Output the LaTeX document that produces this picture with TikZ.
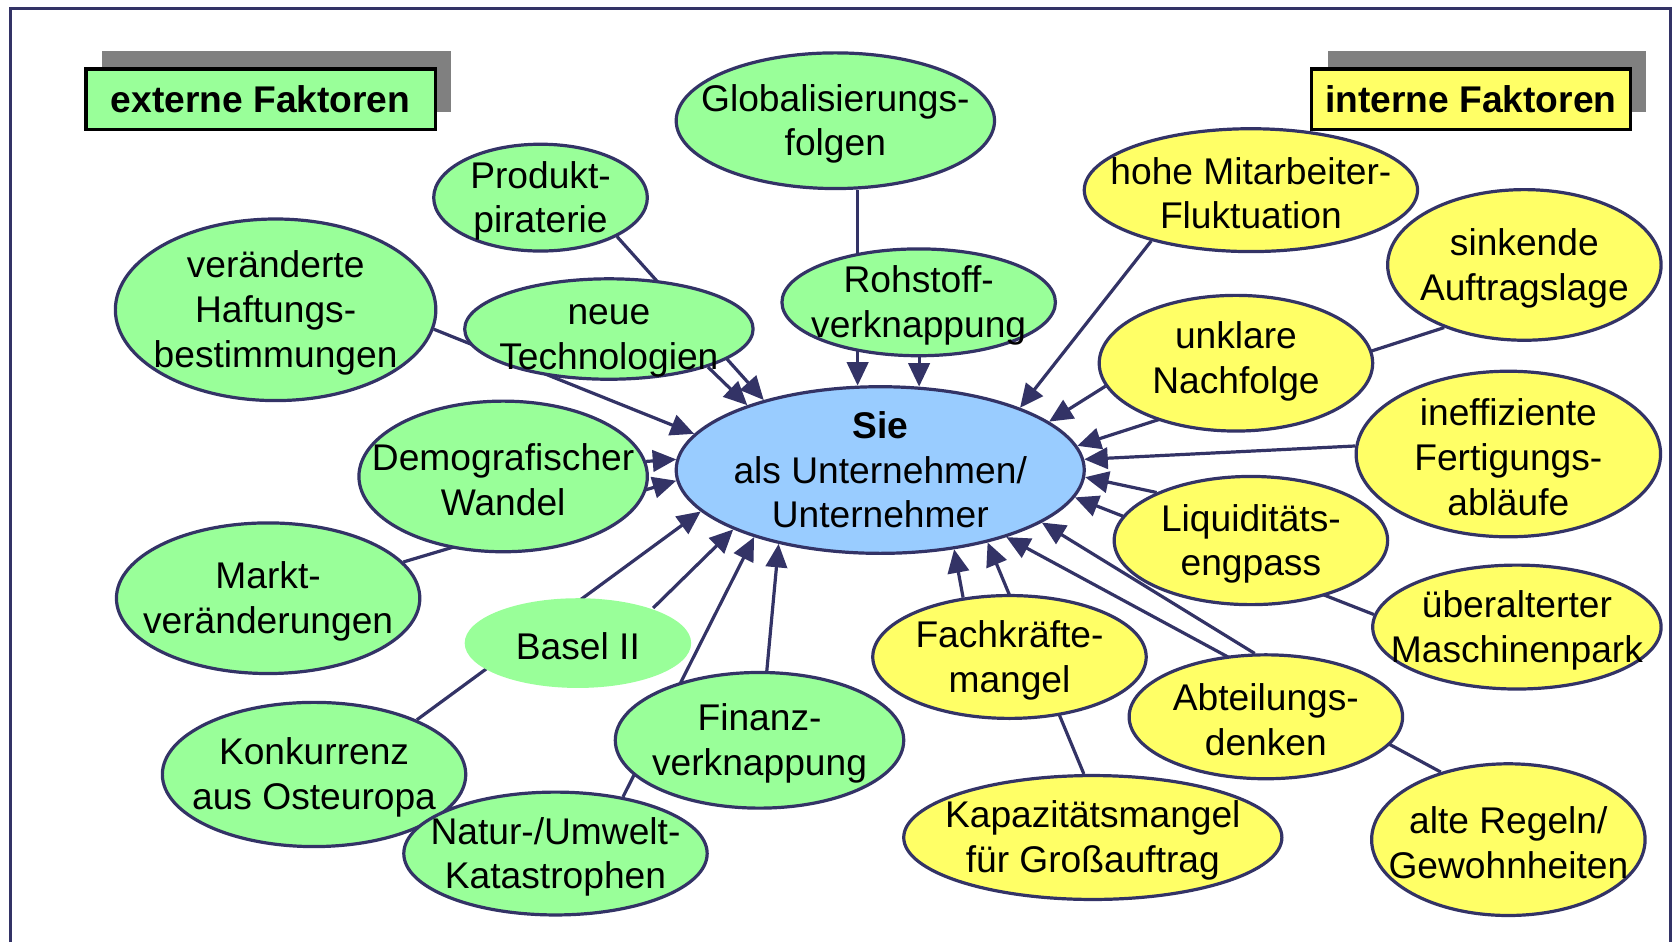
\documentclass[tikz,border=0pt]{standalone}
\usepackage{fontspec}
\setmainfont{Liberation Sans}
\usetikzlibrary{shapes.geometric, arrows.meta, backgrounds, shadows}
\definecolor{rand}{HTML}{333366}
\definecolor{gruen}{HTML}{99FF99}
\definecolor{gelb}{HTML}{FFFF66}
\definecolor{blau}{HTML}{99CCFF}
\definecolor{schatten}{HTML}{808080}

\begin{document}
\begin{tikzpicture}[x=0.1mm, y=-0.1mm, font=\fontsize{9.9}{11.9}\selectfont,
        fak/.style = {ellipse, draw=rand, line width=0.3mm, inner sep=0pt},
        txt/.style = {label={[align=center, yshift=-0.3mm]center:#1}},
        extfak/.style = {fak, fill=gruen, txt={#1}},
        intfak/.style = {fak, fill=gelb, txt={#1}},
        titel/.style = {draw=black, line width=0.3mm, font=\fontsize{9.9}{11.9}\selectfont\bfseries, minimum height=5.7mm, general shadow={fill=schatten, shadow xshift=1.5mm, shadow yshift=1.7mm}},
        pfeil/.style = {draw=rand, line width=0.3mm, -{Triangle[length=2.2mm, width=2mm]}}]
        \useasboundingbox (0,0) rectangle (1568,882);
        \draw[rand, line width=0.3mm] (10,882) |- (1564,8) -- (1564,882);

        \node[titel, fill=gruen, minimum width=32.7mm] (extern) at (244,93) {externe Faktoren};
        \node[titel, fill=gelb, minimum width=29.8mm] (intern) at (1377,93) {interne Faktoren};

        \node[extfak={Globalisierungs-\\folgen}, minimum width=29.8mm, minimum height=12.7mm] (glob) at (782,113) {};
        \node[extfak={Produkt-\\piraterie}, minimum width=20mm, minimum height=10mm] (prod) at (506,185) {};
        \node[extfak={veränderte\\Haftungs-\\bestimmungen}, minimum width=30mm, minimum height=17mm] (haft) at (258,290) {};
        \node[fak, fill=gruen, label={[align=center, yshift=-1.1mm]center:{neue\\Technologien}}, minimum width=27mm, minimum height=9.4mm] (neu) at (570,308) {};
        \node[extfak={Rohstoff-\\verknappung}, minimum width=25.6mm, minimum height=10mm] (roh) at (860,283) {};
        \node[extfak={Demografischer\\Wandel}, minimum width=27mm, minimum height=14.1mm] (demo) at (471,446) {};
        \node[extfak={Markt-\\veränderungen}, minimum width=28.4mm, minimum height=14.1mm] (markt) at (251,560) {};
        \node[extfak={Basel II}, draw=none, minimum width=21.2mm, minimum height=8.4mm] (basel) at (541,602) {};
        \node[extfak={Konkurrenz\\aus Osteuropa}, minimum width=28.4mm, minimum height=13.5mm] (konk) at (294,725) {};
        \node[extfak={Natur-/Umwelt-\\Katastrophen}, minimum width=28.4mm, minimum height=11.5mm] (natur) at (520,799) {};
        \node[extfak={Finanz-\\verknappung}, minimum width=27mm, minimum height=12.7mm] (finanz) at (711,693) {};

        \node[fak, fill=blau, label={[align=center]center:{{\bfseries Sie}\\als Unternehmen/\\Unternehmer}}, minimum width=38.2mm, minimum height=15.6mm] (sie) at (824,440) {};

        \node[intfak={hohe Mitarbeiter-\\Fluktuation}, minimum width=31.2mm, minimum height=11.5mm] (hohe) at (1171,178) {};
        \node[intfak={sinkende\\Auftragslage}, minimum width=25.6mm, minimum height=14.1mm] (sink) at (1427,248) {};
        \node[fak, fill=gelb, label={[align=center, yshift=0.2mm]center:{unklare\\Nachfolge}}, minimum width=25.6mm, minimum height=12.7mm] (unkl) at (1157,340) {};
        \node[intfak={ineffiziente\\Fertigungs-\\abläufe}, minimum width=28.5mm, minimum height=15.5mm] (ineff) at (1412,425) {};
        \node[intfak={Liquiditäts-\\engpass}, minimum width=25.6mm, minimum height=12mm] (liq) at (1171,506) {};
        \node[intfak={überalterter\\Maschinenpark}, minimum width=27mm, minimum height=11.6mm] (ueber) at (1420,587) {};
        \node[intfak={Fachkräfte-\\mangel}, minimum width=25.6mm, minimum height=11.5mm] (fach) at (945,615) {};
        \node[intfak={Abteilungs-\\denken}, minimum width=25.6mm, minimum height=11.6mm] (abt) at (1185,671) {};
        \node[intfak={Kapazitätsmangel\\für Großauftrag}, minimum width=35.4mm, minimum height=11.6mm] (kap) at (1023,784) {};
        \node[intfak={alte Regeln/\\Gewohnheiten}, minimum width=25.6mm, minimum height=14.2mm] (alte) at (1412,786) {};

        \begin{pgfonlayer}{background}
        \draw[pfeil] (sie.105 |- glob.south) -- (sie.105);
        \draw[pfeil] (sie.65 |- roh.south) -- (sie.65);
        \draw[pfeil] (prod.-27) -- (sie.149);
        \draw[pfeil] (neu.-21) -- (sie.154);
        \draw[pfeil] (haft.-7) -- (sie.169);
        \draw[pfeil] (demo.6) -- (sie.177);
        \draw[pfeil] (markt.15) -- (sie.183);
        \draw[pfeil] (konk.28) -- (sie.193);
        \draw[pfeil] (basel.25) -- (sie.202);
        \draw[pfeil] (natur.40) -- (sie.208);
        \draw[pfeil] (finanz.84) -- (sie.216);
        \draw[pfeil] (hohe.207) -- (sie.24);
        \draw[pfeil] (unkl.190) -- (sie.16);
        \draw[pfeil] (sink.218) -- (sie.7);
        \draw[pfeil] (ineff.177) -- (sie.3);
        \draw[pfeil] (liq.153) -- (sie.-2);
        \draw[pfeil] (ueber.175) -- (sie.-8);
        \draw[pfeil] (fach.128) -- (sie.-47);
        \draw[pfeil] (kap.98) -- (sie.-34);
        \draw[pfeil] (abt.100) -- (sie.-18);
        \draw[pfeil] (alte.135) -- (sie.-28);
        \end{pgfonlayer}

    \end{tikzpicture}
\end{document}
